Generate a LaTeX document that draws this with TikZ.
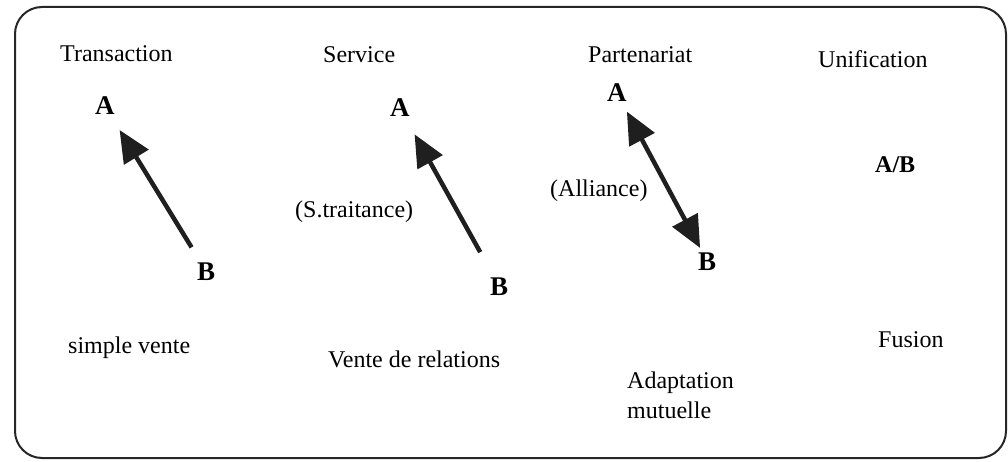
\documentclass[tikz,border=0pt]{standalone}
\usepackage{fontspec}
\setmainfont{Liberation Serif}
\usetikzlibrary{arrows.meta}

\begin{document}
\begin{tikzpicture}[x=1pt, y=-1pt,
    lbl/.style={anchor=base west, inner sep=0pt, font=\fontsize{24}{30}\selectfont},
    firm/.style={lbl, font=\fontsize{27}{30}\selectfont\bfseries},
    rel/.style={line width=4.5pt, color=black!88, -{Triangle[length=32pt, width=28pt]}},
    mutual/.style={rel, {Triangle[length=32pt, width=28pt]}-{Triangle[length=32pt, width=28pt]}}
]
    \useasboundingbox (0,0) rectangle (1008,462);
    \draw[line width=2pt, rounded corners=27pt, color=black!85] (15,7) rectangle (1006,458);

    % Headings
    \node[lbl] (trans) at (60,62) {Transaction};
    \node[lbl] (serv) at (323,63) {Service};
    \node[lbl] (part) at (588,63) {Partenariat};
    \node[lbl] (unif) at (818,68) {Unification};

    % Firms
    \node[firm] (a1) at (95,115) {A};
    \node[firm] (b1) at (197,280) {B};
    \node[firm] (a2) at (390,117) {A};
    \node[firm] (b2) at (490,295) {B};
    \node[firm] (a3) at (607,102) {A};
    \node[firm] (b3) at (698,270) {B};
    \node[firm, font=\fontsize{24}{30}\selectfont\bfseries] (ab) at (875,173) {A/B};

    % Relations
    \draw[rel, shorten <=28pt, shorten >=28pt] (b1.center) -- (a1.center);
    \draw[rel, shorten <=39pt, shorten >=30pt] (b2.center) -- (a2.center);
    \draw[mutual, shorten <=21pt, shorten >=15pt] (a3.center) -- (b3.center);

    % Notes
    \node[lbl] (stt) at (295,218) {(S.traitance)};
    \node[lbl] (alli) at (550,197) {(Alliance)};
    \node[lbl] (vente) at (68,353) {simple vente};
    \node[lbl] (vrel) at (328,367) {Vente de relations};
    \node[lbl, align=left, anchor=north west] (adapt) at (627,371.6) {Adaptation\\mutuelle};
    \node[lbl] (fus) at (878,347) {Fusion};

\end{tikzpicture}
\end{document}
